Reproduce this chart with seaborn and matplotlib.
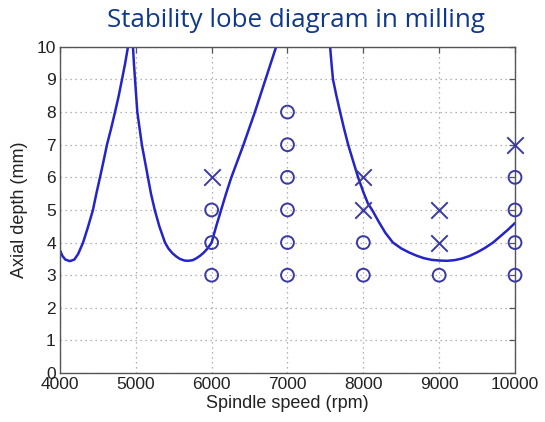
import numpy as np
import pandas as pd
import seaborn as sns
import matplotlib
matplotlib.use('Agg')
import matplotlib.pyplot as plt

# stability boundary (rpm, axial depth in mm), one list per lobe
lobe1_rpm = [4000, 4030, 4070, 4130, 4190, 4240, 4305, 4370, 4435, 4480, 4528, 4575, 4620,
             4675, 4726, 4775, 4818, 4860, 4897, 4946]
lobe1_depth = [3.77, 3.6, 3.48, 3.43, 3.48, 3.65, 4.0, 4.48, 5.0, 5.5, 6.0, 6.5, 7.0,
               7.5, 8.0, 8.5, 9.0, 9.5, 10.0, 10.6]

lobe2_rpm = [4946, 4963, 4975, 4990, 5005, 5020, 5050, 5080, 5120, 5160, 5200, 5250, 5310,
             5385, 5430, 5480, 5530, 5580, 5640, 5690, 5750, 5800, 5850, 5900, 5950, 6000,
             6060, 6125, 6190, 6260, 6340, 6420, 6495, 6570, 6640, 6710, 6780, 6850, 6900]
lobe2_depth = [10.6, 10.0, 9.5, 9.0, 8.5, 8.0, 7.5, 7.0, 6.5, 6.0, 5.5, 5.0, 4.5,
               4.0, 3.82, 3.68, 3.58, 3.5, 3.45, 3.44, 3.46, 3.52, 3.6, 3.7, 3.83, 4.0,
               4.5, 5.0, 5.5, 6.0, 6.5, 7.0, 7.5, 8.0, 8.5, 9.0, 9.5, 10.0, 10.4]

lobe3_rpm = [7530, 7562, 7580, 7600, 7645, 7694, 7745, 7800, 7865, 7931, 8000, 8060, 8116,
             8200, 8290, 8390, 8500, 8600, 8700, 8800, 8900, 9000, 9100, 9200, 9300, 9400,
             9500, 9600, 9710, 9800, 9900, 10000]
lobe3_depth = [10.5, 10.0, 9.5, 9.0, 8.5, 8.0, 7.5, 7.0, 6.5, 6.0, 5.55, 5.2, 5.0,
               4.65, 4.3, 4.0, 3.82, 3.7, 3.6, 3.52, 3.47, 3.45, 3.44, 3.46, 3.51, 3.59,
               3.7, 3.83, 4.0, 4.18, 4.38, 4.6]

# cutting tests
stable_rpm = [6000, 6000, 6000, 7000, 7000, 7000, 7000, 7000, 7000, 8000, 8000, 9000,
              10000, 10000, 10000, 10000]
stable_depth = [3, 4, 5, 3, 4, 5, 6, 7, 8, 3, 4, 3, 3, 4, 5, 6]
chatter_rpm = [6000, 8000, 8000, 9000, 9000, 10000]
chatter_depth = [6, 5, 6, 4, 5, 7]

lobes = pd.concat([
    pd.DataFrame({'rpm': lobe1_rpm, 'depth': lobe1_depth, 'lobe': 1}),
    pd.DataFrame({'rpm': lobe2_rpm, 'depth': lobe2_depth, 'lobe': 2}),
    pd.DataFrame({'rpm': lobe3_rpm, 'depth': lobe3_depth, 'lobe': 3}),
])
stable = pd.DataFrame({'rpm': stable_rpm, 'depth': stable_depth})
chatter = pd.DataFrame({'rpm': chatter_rpm, 'depth': chatter_depth})

sns.set_style('white')
plt.rcParams['font.family'] = ['Liberation Sans', 'DejaVu Sans']

line_col = '#2424c8'
mark_col = '#3a3aa6'

fig = plt.figure(figsize=(5.45, 4.22), dpi=100)
ax = fig.add_axes([0.110, 0.116, 0.835, 0.773])

sns.lineplot(data=lobes, x='rpm', y='depth', units='lobe', estimator=None, sort=False,
             color=line_col, linewidth=1.8, ax=ax, legend=False)
sns.scatterplot(data=stable, x='rpm', y='depth', marker='o', s=85, color=mark_col,
                facecolors='none', edgecolor=mark_col, linewidth=1.4, ax=ax,
                legend=False, clip_on=False, zorder=5)
sns.scatterplot(data=chatter, x='rpm', y='depth', marker='x', s=140, color=mark_col,
                linewidth=1.4, ax=ax, legend=False, clip_on=False, zorder=5)

ax.set_xlim(4000, 10000)
ax.set_ylim(0, 10)
ax.set_xticks(range(4000, 10001, 1000))
ax.set_yticks(range(0, 11))
ax.grid(True, color='#9a9a9a', linestyle=(0, (1, 3)), linewidth=0.9)
ax.tick_params(direction='in', top=True, right=True, length=4, width=0.9,
               colors='#555555', labelcolor='#222222', labelsize=12.5, pad=3)
for s in ax.spines.values():
    s.set_color('#555555')
    s.set_linewidth(1.0)
ax.set_xlabel('Spindle speed (rpm)', fontsize=13, color='#222222', labelpad=2)
ax.set_ylabel('Axial depth (mm)', fontsize=13, color='#222222', labelpad=6)

fig.text(0.543, 0.952, 'Stability lobe diagram in milling', ha='center', va='center',
         fontsize=18.6, color='#10388a', family=['Open Sans', 'DejaVu Sans'])

fig.savefig('out.png', dpi=100)
